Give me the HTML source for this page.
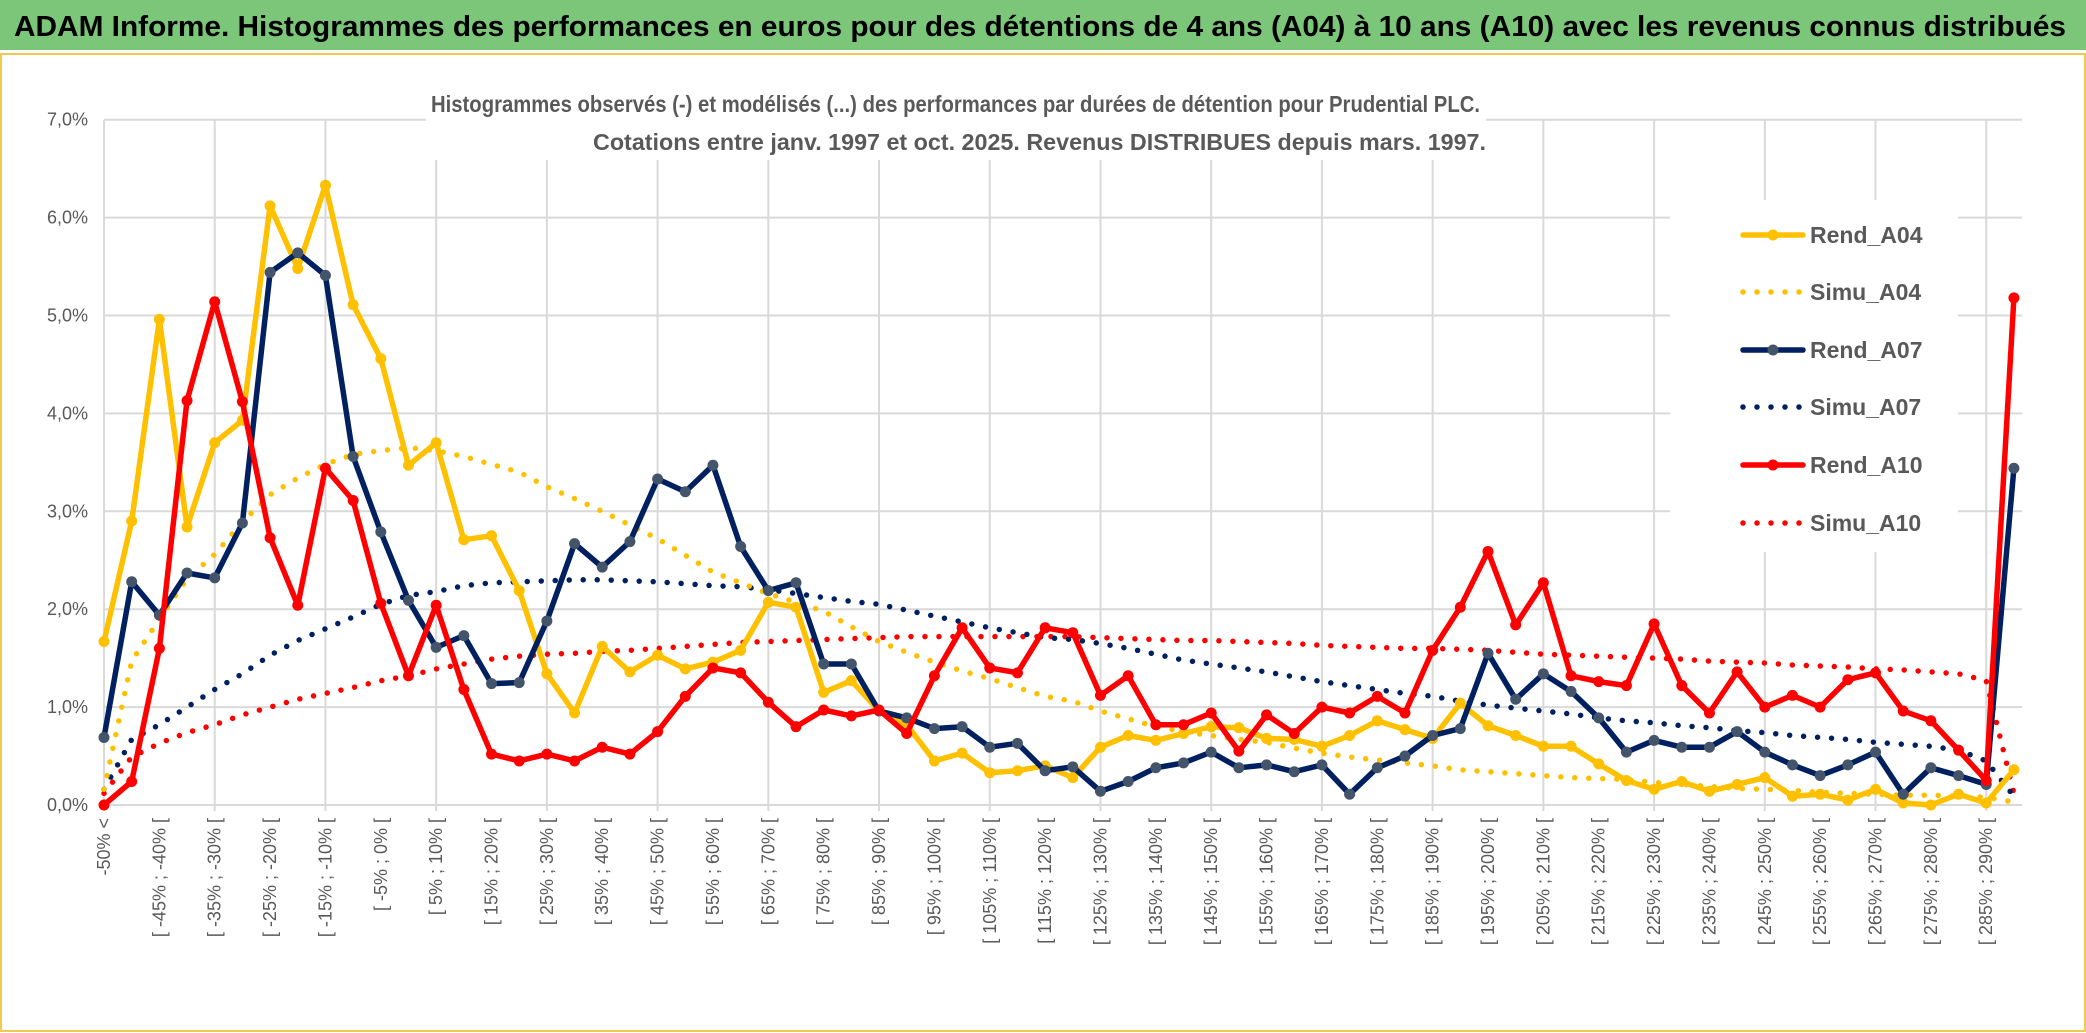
<!DOCTYPE html>
<html><head><meta charset="utf-8"><style>
html,body{margin:0;padding:0;background:#fff;}
svg{display:block;font-family:"Liberation Sans",sans-serif;}
</style></head><body>
<svg id="chart" width="2086" height="1033" viewBox="0 0 2086 1033" xmlns="http://www.w3.org/2000/svg">
<rect x="0" y="0" width="2086" height="1033" fill="#fff"/>
<rect x="0" y="0" width="2086" height="50" fill="#7CC67A"/>
<text x="14" y="36" font-size="29" font-weight="bold" fill="#000" textLength="2052" lengthAdjust="spacingAndGlyphs">ADAM Informe. Histogrammes des performances en euros pour des détentions de 4 ans (A04) à 10 ans (A10) avec les revenus connus distribués</text>
<rect x="1" y="54" width="2084" height="977" fill="none" stroke="#F2C94C" stroke-width="2"/>
<g id="grid"></g>
<rect x="426" y="88" width="1060" height="72" fill="#fff"/>
<text x="431" y="112" font-size="23" font-weight="bold" fill="#595959" textLength="1049" lengthAdjust="spacingAndGlyphs">Histogrammes observés (-) et modélisés (...) des performances par durées de détention pour Prudential PLC.</text>
<text x="593" y="150" font-size="23" font-weight="bold" fill="#595959" textLength="893" lengthAdjust="spacingAndGlyphs">Cotations entre janv. 1997 et oct. 2025. Revenus DISTRIBUES depuis mars. 1997.</text>
<g id="yaxis"></g>
<g id="xaxis"></g>
<g id="series"></g>
<g id="legend"></g>
</svg>
<script>
const rendA04 = [1.67,2.9,4.96,2.84,3.7,3.93,6.12,5.48,6.33,5.11,4.56,3.47,3.7,2.71,2.75,2.19,1.34,0.94,1.62,1.36,1.53,1.39,1.46,1.58,2.07,2.02,1.15,1.27,0.96,0.82,0.45,0.53,0.33,0.35,0.4,0.28,0.59,0.71,0.66,0.73,0.8,0.79,0.68,0.67,0.6,0.71,0.86,0.77,0.68,1.04,0.81,0.71,0.6,0.6,0.42,0.25,0.16,0.24,0.14,0.21,0.28,0.09,0.11,0.05,0.16,0.02,0.0,0.11,0.02,0.36];
const rendA07 = [0.69,2.28,1.94,2.37,2.32,2.88,5.44,5.64,5.41,3.56,2.79,2.09,1.61,1.73,1.24,1.25,1.88,2.67,2.43,2.69,3.33,3.2,3.47,2.64,2.19,2.27,1.44,1.44,0.96,0.89,0.78,0.8,0.59,0.63,0.35,0.39,0.14,0.24,0.38,0.43,0.54,0.38,0.41,0.34,0.41,0.11,0.38,0.5,0.71,0.78,1.55,1.08,1.34,1.16,0.89,0.54,0.66,0.59,0.59,0.75,0.54,0.41,0.3,0.41,0.54,0.11,0.38,0.3,0.21,3.44];
const rendA10 = [0,0.24,1.6,4.13,5.14,4.12,2.73,2.04,3.44,3.11,2.06,1.32,2.04,1.18,0.52,0.45,0.52,0.45,0.59,0.52,0.75,1.11,1.4,1.35,1.05,0.8,0.97,0.91,0.97,0.73,1.32,1.81,1.4,1.35,1.81,1.76,1.12,1.32,0.82,0.82,0.94,0.55,0.92,0.73,1.0,0.94,1.11,0.94,1.58,2.02,2.59,1.84,2.27,1.32,1.26,1.22,1.85,1.22,0.94,1.36,1.0,1.12,1.0,1.28,1.35,0.96,0.86,0.56,0.25,5.18];
const simuA04 = [0.16,1.47,1.9,2.31,2.56,2.89,3.17,3.34,3.48,3.58,3.62,3.65,3.62,3.56,3.48,3.4,3.25,3.13,3.0,2.86,2.72,2.55,2.38,2.27,2.16,2.07,1.98,1.82,1.67,1.56,1.46,1.37,1.29,1.2,1.11,1.06,0.96,0.88,0.8,0.75,0.71,0.67,0.64,0.58,0.53,0.49,0.46,0.43,0.4,0.36,0.34,0.32,0.3,0.28,0.27,0.26,0.23,0.21,0.19,0.17,0.16,0.15,0.13,0.12,0.11,0.1,0.1,0.09,0.08,0.03];
const simuA07 = [0.16,0.67,0.82,1.0,1.18,1.34,1.53,1.68,1.8,1.92,2.05,2.14,2.18,2.24,2.27,2.28,2.29,2.3,2.3,2.29,2.28,2.26,2.24,2.23,2.2,2.16,2.12,2.08,2.05,1.99,1.93,1.87,1.81,1.76,1.71,1.69,1.65,1.6,1.54,1.48,1.44,1.4,1.36,1.31,1.26,1.22,1.18,1.14,1.11,1.06,1.02,0.99,0.96,0.93,0.89,0.86,0.84,0.81,0.79,0.76,0.74,0.71,0.69,0.67,0.64,0.62,0.6,0.56,0.45,0.09];
const simuA10 = [0.12,0.49,0.63,0.74,0.82,0.92,1.0,1.08,1.14,1.2,1.27,1.32,1.39,1.44,1.49,1.52,1.54,1.55,1.57,1.58,1.6,1.62,1.64,1.66,1.67,1.68,1.69,1.7,1.71,1.72,1.72,1.72,1.72,1.72,1.72,1.72,1.71,1.7,1.69,1.68,1.68,1.67,1.66,1.65,1.63,1.62,1.61,1.6,1.6,1.59,1.58,1.56,1.54,1.53,1.52,1.51,1.5,1.49,1.47,1.46,1.45,1.43,1.42,1.41,1.39,1.38,1.36,1.34,1.27,0.12];
const yTicks = [0,1,2,3,4,5,6,7];
const yTickLabels = ["0,0%","1,0%","2,0%","3,0%","4,0%","5,0%","6,0%","7,0%"];
const categories = ["-50% <"];
for (let i = 1; i < 70; i++) { const lo = -55 + 5 * i; categories.push("[ " + lo + "% ; " + (lo + 5) + "% ["); }

const NS = "http://www.w3.org/2000/svg";
const X0 = 104, DX = 27.68, Y0 = 805, PY = 97.9, XR = 2022;
const xs = i => X0 + DX * i;
const ys = v => Y0 - v * PY;
function mk(tag, attrs, parent) { const e = document.createElementNS(NS, tag); for (const k in attrs) e.setAttribute(k, attrs[k]); parent.appendChild(e); return e; }

const grid = document.getElementById('grid');
yTicks.forEach(t => {
  const l = mk('line', {x1: X0, x2: XR, y1: ys(t), y2: ys(t), stroke: '#D9D9D9', 'stroke-width': 2}, grid);
  
  
});
for (let i = 0; i < categories.length; i += 4) {
  const l = mk('line', {x1: xs(i), x2: xs(i), y1: ys(7), y2: Y0 + 6, stroke: '#D9D9D9', 'stroke-width': 2}, grid);
  
  
}
const yax = document.getElementById('yaxis');
yTicks.forEach((t, k) => {
  const tx = mk('text', {x: 88, y: ys(t) + 6, 'font-size': 18, fill: '#595959', 'text-anchor': 'end'}, yax);
  tx.textContent = yTickLabels[k];
  
  
});
const xax = document.getElementById('xaxis');
categories.forEach((c, i) => {
  if (i % 2) return;
  const x = xs(i) + 6, y = 818;
  const tx = mk('text', {x: x, y: y, 'font-size': 18, fill: '#595959', 'text-anchor': 'end', transform: 'rotate(-90 ' + x + ' ' + y + ')'}, xax);
  tx.textContent = c;
  
  
});

const ser = document.getElementById('series');
function pts(arr) { return arr.map((v, i) => xs(i).toFixed(1) + ',' + ys(v).toFixed(1)).join(' '); }
function dotted(arr, color, name) {
  const p = mk('polyline', {points: pts(arr), fill: 'none', stroke: color, 'stroke-width': 5.5, 'stroke-linecap': 'round', 'stroke-dasharray': '0 14'}, ser);
  
  
}
function solid(arr, color, mcolor, name) {
  const g = mk('g', {}, ser);
  
  
  mk('polyline', {points: pts(arr), fill: 'none', stroke: color, 'stroke-width': 5.5, 'stroke-linejoin': 'round'}, g);
  arr.forEach((v, i) => {
    const c = mk('circle', {cx: xs(i), cy: ys(v), r: 5.5, fill: mcolor}, g);
    
    
  });
}
dotted(simuA10, '#FF0000', 'simu-a10-line');
dotted(simuA07, '#002060', 'simu-a07-line');
dotted(simuA04, '#FFC000', 'simu-a04-line');
solid(rendA04, '#FFC000', '#FFC000', 'rend-a04-line');
solid(rendA07, '#002060', '#44546A', 'rend-a07-line');
solid(rendA10, '#FF0000', '#FF0000', 'rend-a10-line');

const leg = document.getElementById('legend');
const lb = mk('rect', {x: 1670, y: 200, width: 288, height: 352, fill: '#fff'}, leg);


const legendNames = ["Rend_A04","Simu_A04","Rend_A07","Simu_A07","Rend_A10","Simu_A10"];
const legendColors = ["#FFC000","#FFC000","#002060","#002060","#FF0000","#FF0000"];
const legendMarkers = ["#FFC000",null,"#44546A",null,"#FF0000",null];
const legendY = [235,292,350,407,465,523];
legendNames.forEach((n, k) => {
  const g = mk('g', {}, leg);
  
  
  const y = legendY[k];
  if (legendMarkers[k]) {
    mk('line', {x1: 1743, x2: 1803, y1: y, y2: y, stroke: legendColors[k], 'stroke-width': 5.5, 'stroke-linecap': 'round'}, g);
    mk('circle', {cx: 1773, cy: y, r: 5.5, fill: legendMarkers[k]}, g);
  } else {
    mk('line', {x1: 1743, x2: 1803, y1: y, y2: y, stroke: legendColors[k], 'stroke-width': 5.5, 'stroke-linecap': 'round', 'stroke-dasharray': '0 14'}, g);
  }
  const t = mk('text', {x: 1810, y: y + 8, 'font-size': 23, 'font-weight': 'bold', fill: '#595959'}, g);
  t.textContent = n;
});
</script>
</body></html>
